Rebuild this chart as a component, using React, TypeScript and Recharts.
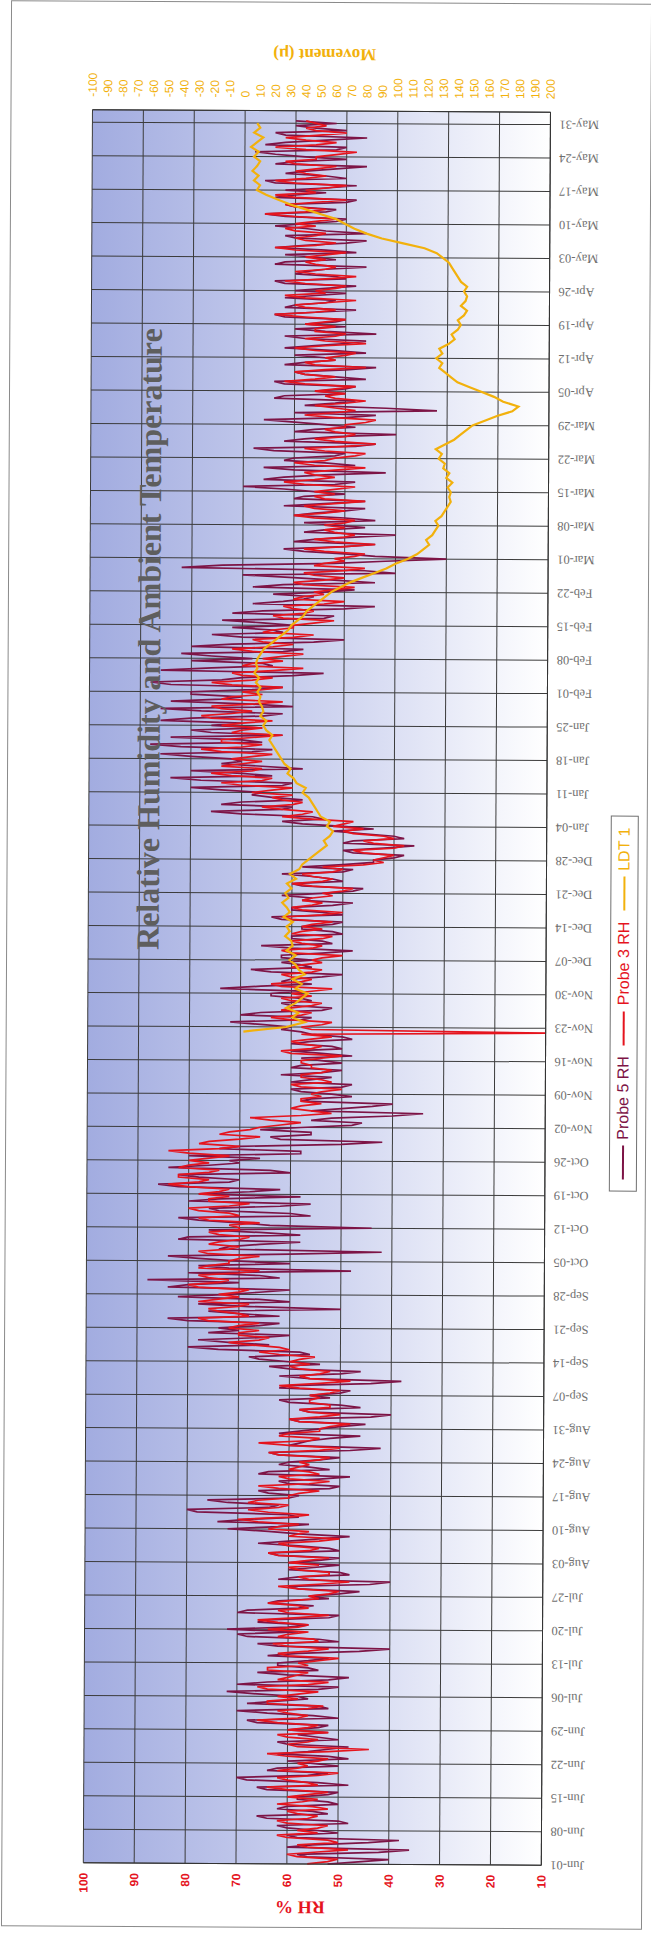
import { LineChart, Line, XAxis, YAxis, CartesianGrid } from 'recharts';

// week labels on the date axis, one every 7 days from Jun-01
const TICK_LABELS = [
  'Jun-01', 'Jun-08', 'Jun-15', 'Jun-22', 'Jun-29', 'Jul-06', 'Jul-13', 'Jul-20', 'Jul-27',
  'Aug-03', 'Aug-10', 'Aug-17', 'Aug-24', 'Aug-31', 'Sep-07', 'Sep-14', 'Sep-21', 'Sep-28',
  'Oct-05', 'Oct-12', 'Oct-19', 'Oct-26', 'Nov-02', 'Nov-09', 'Nov-16', 'Nov-23', 'Nov-30',
  'Dec-07', 'Dec-14', 'Dec-21', 'Dec-28', 'Jan-04', 'Jan-11', 'Jan-18', 'Jan-25', 'Feb-01',
  'Feb-08', 'Feb-15', 'Feb-22', 'Mar-01', 'Mar-08', 'Mar-15', 'Mar-22', 'Mar-29', 'Apr-05',
  'Apr-12', 'Apr-19', 'Apr-26', 'May-03', 'May-10', 'May-17', 'May-24', 'May-31',
];
const TICK_DAYS = TICK_LABELS.map((_, i) => i * 7);

const RH_TICKS = [10, 20, 30, 40, 50, 60, 70, 80, 90, 100];
const MOV_TICKS = [
  -100, -90, -80, -70, -60, -50, -40, -30, -20, -10, 0, 10, 20, 30, 40, 50, 60, 70, 80, 90,
  100, 110, 120, 130, 140, 150, 160, 170, 180, 190, 200,
];

// Probe 5 RH, morning reading, Jun-01 .. May-31 (one row per week)
const PROBE5_AM = [
  52, 40, 58, 36, 55, 38, 60,
  54, 62, 50, 66, 55, 60, 52,
  58, 50, 66, 54, 70, 52, 62,
  55, 48, 62, 52, 60, 50, 58,
  60, 52, 68, 55, 70, 54, 62,
  58, 72, 50, 64, 48, 66, 56,
  62, 52, 58, 40, 66, 54, 70,
  72, 56, 64, 50, 68, 55, 62,
  56, 46, 60, 40, 58, 50, 55,
  60, 50, 64, 52, 66, 54, 58,
  72, 56, 68, 60, 80, 62, 76,
  58, 66, 50, 62, 48, 64, 56,
  60, 50, 64, 42, 58, 52, 62,
  54, 45, 60, 40, 58, 50, 62,
  56, 48, 60, 38, 62, 46, 64,
  60, 68, 58, 80, 72, 66, 76,
  74, 62, 84, 70, 50, 78, 66,
  72, 60, 80, 88, 66, 48, 78,
  70, 84, 42, 72, 58, 80, 66,
  44, 70, 82, 60, 76, 56, 74,
  78, 62, 86, 70, 82, 64, 76,
  72, 80, 58, 70, 42, 64, 56,
  58, 46, 52, 34, 50, 40, 56,
  52, 60, 48, 56, 62, 50, 58,
  54, 48, 60, 52, 56, 50, 58,
  60, 72, 56, 66, 52, 62, 58,
  64, 74, 56, 60, 50, 68, 58,
  56, 62, 48, 66, 54, 60, 52,
  58, 50, 64, 54, 60, 48, 56,
  54, 46, 60, 52, 62, 48, 50,
  44, 38, 50, 36, 48, 40, 52,
  50, 62, 56, 76, 60, 70, 64,
  66, 80, 60, 84, 70, 58, 74,
  72, 86, 64, 88, 70, 62, 80,
  76, 86, 66, 78, 60, 84, 70,
  80, 62, 88, 70, 54, 76, 66,
  68, 82, 58, 72, 50, 76, 64,
  60, 74, 52, 66, 44, 62, 56,
  54, 68, 44, 60, 40, 82, 52,
  30, 50, 62, 44, 56, 40, 54,
  52, 44, 60, 50, 62, 46, 58,
  56, 70, 48, 62, 42, 66, 54,
  60, 50, 68, 44, 58, 40, 56,
  54, 66, 44, 32, 58, 48, 62,
  56, 48, 64, 52, 60, 44, 58,
  54, 46, 62, 50, 58, 44, 60,
  58, 50, 64, 48, 60, 52, 56,
  60, 48, 64, 52, 58, 46, 62,
  56, 48, 64, 50, 60, 46, 58,
  58, 50, 66, 52, 62, 48, 60,
  62, 48, 66, 54, 58, 46, 60,
  58, 68, 50, 62, 46, 64, 56,
  52,
];

// Probe 5 RH, evening reading
const PROBE5_PM = [
  46, 56, 42, 60, 44, 58, 50,
  60, 48, 64, 52, 62, 50, 58,
  52, 64, 48, 68, 56, 64, 50,
  60, 52, 56, 48, 62, 54, 52,
  54, 66, 50, 64, 52, 68, 56,
  66, 54, 70, 52, 60, 54, 62,
  56, 64, 46, 62, 50, 68, 58,
  60, 66, 52, 70, 58, 64, 52,
  50, 58, 44, 62, 48, 60, 50,
  54, 62, 50, 58, 60, 48, 64,
  62, 74, 58, 78, 64, 72, 60,
  64, 52, 60, 54, 66, 52, 62,
  54, 62, 48, 60, 56, 46, 58,
  50, 58, 44, 56, 46, 60, 52,
  50, 62, 44, 56, 50, 60, 54,
  66, 56, 74, 64, 78, 60, 70,
  66, 80, 62, 76, 68, 60, 82,
  66, 84, 70, 62, 80, 72, 60,
  78, 60, 74, 66, 82, 58, 76,
  64, 78, 56, 74, 62, 80, 58,
  68, 82, 72, 78, 60, 84, 70,
  66, 58, 74, 50, 62, 56, 66,
  48, 56, 40, 56, 44, 58, 48,
  58, 50, 60, 52, 54, 60, 50,
  58, 54, 50, 60, 48, 56, 62,
  66, 58, 70, 54, 60, 56, 64,
  58, 66, 62, 54, 64, 56, 62,
  62, 54, 60, 52, 60, 50, 58,
  52, 62, 50, 60, 52, 58, 62,
  48, 58, 50, 56, 50, 58, 44,
  40, 48, 42, 50, 38, 46, 44,
  58, 54, 70, 62, 74, 58, 68,
  74, 62, 78, 64, 80, 66, 70,
  80, 68, 82, 66, 84, 76, 66,
  70, 80, 62, 86, 68, 74, 80,
  68, 84, 74, 60, 86, 64, 80,
  76, 62, 80, 56, 70, 62, 72,
  66, 54, 72, 50, 68, 58, 64,
  48, 62, 52, 70, 46, 74, 42,
  44, 58, 50, 60, 48, 58, 46,
  58, 50, 56, 46, 54, 60, 50,
  62, 52, 66, 54, 60, 48, 62,
  52, 64, 48, 62, 52, 60, 48,
  60, 50, 60, 42, 52, 64, 50,
  50, 62, 46, 58, 50, 62, 52,
  60, 52, 56, 46, 62, 54, 50,
  52, 62, 56, 62, 54, 62, 50,
  54, 62, 50, 60, 54, 64, 52,
  62, 54, 58, 46, 62, 54, 64,
  52, 62, 54, 60, 50, 64, 54,
  54, 64, 50, 62, 52, 64, 50,
  64, 52, 66, 54, 62, 50, 60,
  60,
];

// Probe 3 RH, morning reading
const PROBE3_AM = [
  56, 50, 60, 48, 58, 52, 62,
  58, 52, 62, 54, 60, 55, 57,
  60, 52, 64, 56, 62, 50, 58,
  58, 52, 64, 44, 60, 54, 62,
  60, 54, 66, 56, 62, 53, 64,
  62, 54, 66, 52, 60, 56, 64,
  58, 50, 62, 52, 63, 55, 60,
  64, 56, 66, 52, 62, 58, 60,
  56, 50, 62, 48, 58, 52, 60,
  60, 52, 64, 54, 62, 50, 58,
  64, 58, 70, 56, 68, 60, 66,
  60, 54, 66, 52, 62, 56, 58,
  58, 52, 64, 50, 66, 54, 60,
  54, 48, 60, 50, 58, 52, 56,
  56, 50, 62, 48, 58, 52, 60,
  60, 55, 66, 62, 72, 64, 70,
  72, 66, 78, 70, 76, 68, 74,
  74, 68, 80, 72, 78, 66, 76,
  72, 66, 78, 70, 74, 68, 76,
  70, 66, 78, 72, 80, 68, 76,
  78, 72, 84, 76, 82, 74, 80,
  80, 72, 84, 70, 76, 66, 72,
  66, 58, 68, 52, 60, 54, 58,
  56, 50, 60, 54, 58, 52, 56,
  58, 50, 62, 54, 60, 52, 10,
  58, 52, 64, 56, 60, 54, 62,
  60, 52, 64, 56, 62, 54, 58,
  56, 50, 62, 54, 60, 52, 58,
  58, 52, 62, 50, 60, 54, 56,
  54, 48, 60, 52, 58, 50, 46,
  44, 40, 48, 38, 46, 42, 50,
  52, 48, 62, 56, 66, 58, 64,
  68, 60, 74, 64, 76, 66, 70,
  72, 64, 78, 66, 74, 62, 70,
  74, 64, 78, 68, 76, 62, 72,
  70, 62, 76, 64, 72, 58, 68,
  66, 58, 72, 60, 68, 56, 64,
  60, 52, 64, 56, 62, 50, 58,
  56, 48, 60, 50, 58, 46, 54,
  52, 46, 58, 44, 56, 48, 54,
  54, 48, 60, 50, 58, 46, 56,
  56, 48, 62, 52, 58, 46, 60,
  52, 46, 58, 44, 56, 48, 54,
  50, 44, 58, 48, 56, 46, 54,
  56, 48, 62, 52, 60, 46, 58,
  54, 48, 60, 46, 58, 50, 56,
  58, 50, 64, 52, 60, 48, 62,
  56, 50, 62, 48, 60, 52, 58,
  58, 50, 64, 52, 60, 54, 62,
  60, 52, 66, 54, 62, 50, 64,
  58, 50, 64, 54, 60, 52, 62,
  56, 48, 64, 52, 62, 50, 58,
  56,
];

// Probe 3 RH, evening reading
const PROBE3_PM = [
  52, 58, 54, 56, 50, 60, 54,
  54, 60, 56, 58, 52, 62, 54,
  56, 60, 54, 60, 54, 62, 56,
  54, 60, 52, 58, 56, 60, 52,
  56, 62, 58, 60, 56, 64, 58,
  58, 64, 56, 62, 58, 64, 56,
  54, 60, 56, 60, 54, 62, 56,
  58, 62, 58, 60, 56, 64, 54,
  52, 58, 54, 56, 52, 58, 54,
  56, 62, 56, 60, 54, 60, 56,
  62, 66, 60, 64, 62, 68, 60,
  58, 62, 56, 60, 54, 60, 56,
  54, 62, 54, 60, 56, 62, 54,
  52, 58, 54, 56, 52, 56, 54,
  52, 58, 54, 56, 54, 58, 56,
  58, 62, 60, 68, 66, 70, 66,
  70, 76, 68, 74, 70, 78, 70,
  70, 78, 74, 76, 70, 78, 72,
  70, 76, 72, 76, 70, 74, 70,
  72, 76, 70, 78, 72, 76, 72,
  74, 80, 78, 82, 76, 82, 76,
  76, 80, 74, 78, 70, 74, 68,
  62, 64, 58, 56, 58, 58, 54,
  54, 58, 52, 58, 54, 56, 58,
  54, 60, 56, 58, 56, 58, 56,
  54, 60, 58, 62, 56, 60, 56,
  56, 62, 58, 60, 56, 60, 54,
  54, 60, 56, 58, 54, 60, 54,
  56, 60, 54, 58, 56, 58, 52,
  50, 56, 54, 56, 52, 54, 42,
  42, 46, 40, 44, 40, 48, 46,
  50, 56, 58, 62, 60, 62, 60,
  64, 70, 66, 72, 68, 74, 66,
  68, 74, 70, 74, 68, 72, 66,
  70, 76, 72, 74, 68, 74, 66,
  66, 72, 68, 70, 64, 70, 62,
  62, 68, 64, 66, 60, 66, 60,
  56, 62, 58, 60, 54, 60, 54,
  52, 58, 54, 56, 50, 56, 50,
  48, 54, 50, 52, 50, 52, 50,
  50, 56, 54, 56, 52, 54, 52,
  52, 58, 56, 56, 52, 56, 54,
  48, 54, 50, 52, 50, 52, 50,
  46, 52, 52, 52, 50, 52, 50,
  52, 58, 56, 58, 54, 56, 52,
  50, 56, 54, 54, 52, 56, 52,
  54, 58, 56, 58, 54, 58, 54,
  52, 58, 54, 56, 54, 56, 54,
  54, 60, 56, 58, 56, 60, 56,
  56, 60, 58, 60, 56, 60, 56,
  54, 60, 58, 58, 56, 60, 56,
  52, 58, 56, 58, 56, 56, 54,
  58,
];

// LDT 1 movement (µ), daily from Nov-22 .. May-31
const LDT_START = 174;
const LDT1 = [
  2,
  30, 42, 34, 38, 30, 36, 40,
  44, 36, 40, 34, 42, 38, 36,
  32, 36, 30, 34, 33, 29, 32,
  30, 34, 28, 32, 30, 27, 31,
  29, 33, 30, 36, 32, 38, 40,
  44, 48, 52, 56, 54, 58, 60,
  56, 58, 52, 50, 48, 46, 44,
  40, 42, 36, 34, 30, 32, 28,
  26, 24, 22, 20, 18, 20, 16,
  14, 16, 12, 14, 13, 11, 12,
  10, 12, 9, 11, 8, 10, 9,
  10, 12, 14, 18, 22, 26, 30,
  32, 36, 40, 42, 46, 50, 54,
  58, 64, 70, 78, 86, 94, 100,
  108, 114, 118, 122, 120, 124, 126,
  128, 126, 130, 132, 134, 136, 135,
  136, 134, 137, 133, 135, 131, 132,
  128, 130, 126, 132, 138, 142, 146,
  150, 158, 166, 176, 180, 170, 164,
  156, 148, 140, 136, 132, 128, 130,
  126, 130, 128, 134, 138, 136, 140,
  142, 140, 144, 146, 142, 145, 146,
  144, 146, 142, 140, 138, 136, 134,
  130, 126, 118, 104, 90, 80, 72,
  66, 60, 50, 40, 30, 22, 14,
  8, 10, 6, 9, 5, 8, 10,
  6, 9, 4, 8, 12, 6, 10,
  8,
];

const data = PROBE5_AM.flatMap((p5, i) => [
  {
    day: i,
    p5,
    p3: PROBE3_AM[i] ?? null,
    ldt: i >= LDT_START ? LDT1[i - LDT_START] ?? null : null,
  },
  {
    day: i + 0.5,
    p5: PROBE5_PM[i] ?? null,
    p3: PROBE3_PM[i] ?? null,
    ldt: null,
  },
]);

const MAROON = '#7d1446';
const RED = '#e5141e';
const GOLD = '#f2b10c';

function DateTick({ x, y, payload }: any) {
  const idx = TICK_DAYS.indexOf(payload.value);
  return (
    <text
      x={x}
      y={y}
      transform={`rotate(-90, ${x}, ${y})`}
      textAnchor="end"
      dominantBaseline="central"
      fontFamily="'Liberation Serif', serif"
      fontSize={12.5}
      fill="#6e6e6e"
    >
      {TICK_LABELS[idx]}
    </text>
  );
}

function LegendBox() {
  const item = (color: string, label: string) => (
    <div style={{ display: 'flex', alignItems: 'center', gap: 6 }}>
      <div style={{ width: 34, height: 2, background: color }} />
      <span style={{ color, fontFamily: "'Liberation Sans', sans-serif", fontSize: 16 }}>{label}</span>
    </div>
  );
  return (
    <div
      style={{
        position: 'absolute', left: 745, top: 610, width: 376, height: 28, boxSizing: 'border-box',
        border: '1px solid #707070', background: '#fff', display: 'flex', alignItems: 'center',
        justifyContent: 'space-evenly',
      }}
    >
      {item(MAROON, 'Probe 5 RH')}
      {item(RED, 'Probe 3 RH')}
      {item(GOLD, 'LDT 1')}
    </div>
  );
}

export default function App() {
  return (
    <div style={{ position: 'absolute', left: 0, top: 0, width: 651, height: 1935, background: '#fff', transform: 'rotate(0.3deg)' }}>
      <div
        style={{
          position: 'absolute', left: 0, top: 0, width: 1935, height: 651,
          transformOrigin: '0 0', transform: 'translateY(1935px) rotate(-90deg)',
        }}
      >
        <div style={{ position: 'absolute', left: 7, top: 6, width: 1924, height: 639, border: '1px solid #8a8a8a' }} />
        <LineChart width={1935} height={651} data={data} margin={{ top: 88, right: 51, bottom: 45, left: 21 }}>
          <defs>
            <linearGradient id="plotBg" x1="0" y1="0" x2="0" y2="1">
              <stop offset="0%" stopColor="#a2ace0" />
              <stop offset="55%" stopColor="#d0d5f0" />
              <stop offset="100%" stopColor="#ffffff" />
            </linearGradient>
          </defs>
          <CartesianGrid
            xAxisId="d"
            yAxisId="rh"
            fill="url(#plotBg)"
            fillOpacity={1}
            stroke="#3c3c3c"
            strokeWidth={1}
          />
          <XAxis
            xAxisId="d"
            dataKey="day"
            type="number"
            domain={[0, 366.6]}
            ticks={TICK_DAYS}
            interval={0}
            tick={<DateTick />}
            tickLine={false}
            tickSize={7}
            height={60}
            axisLine={{ stroke: '#333' }}
          />
          <YAxis
            yAxisId="rh"
            domain={[10, 100]}
            ticks={RH_TICKS}
            interval={0}
            width={50}
            tickLine={false}
            tickSize={8}
            axisLine={{ stroke: '#333' }}
            tick={{ fill: RED, fontSize: 12, fontWeight: 700, fontFamily: "'Liberation Sans', sans-serif" }}
          />
          <YAxis
            yAxisId="mov"
            orientation="right"
            domain={[-100, 200]}
            reversed
            ticks={MOV_TICKS}
            interval={0}
            width={60}
            tickLine={false}
            tickSize={11}
            axisLine={{ stroke: '#333' }}
            tick={{ fill: GOLD, fontSize: 12, fontFamily: "'Liberation Sans', sans-serif" }}
          />
          <Line xAxisId="d" yAxisId="rh" dataKey="p5" stroke={MAROON} strokeWidth={1.7} dot={false} isAnimationActive={false} />
          <Line xAxisId="d" yAxisId="rh" dataKey="p3" stroke={RED} strokeWidth={1.7} dot={false} isAnimationActive={false} />
          <Line xAxisId="d" yAxisId="mov" dataKey="ldt" stroke={GOLD} strokeWidth={2.2} dot={false} connectNulls isAnimationActive={false} />
        </LineChart>
        <div
          style={{
            position: 'absolute', left: 1295, top: 148, transform: 'translate(-50%, -50%)', whiteSpace: 'nowrap',
            fontFamily: "'Liberation Serif', serif", fontWeight: 700, fontSize: 32, color: '#5e5e5e',
          }}
        >
          Relative Humidity and Ambient Temperature
        </div>
        <div
          style={{
            position: 'absolute', left: 28, top: 305, transform: 'translate(-50%, -50%) rotate(-90deg)', whiteSpace: 'nowrap',
            fontFamily: "'Liberation Serif', serif", fontWeight: 700, fontSize: 18, color: RED,
          }}
        >
          RH %
        </div>
        <div
          style={{
            position: 'absolute', left: 1881, top: 320, transform: 'translate(-50%, -50%) rotate(-90deg)', whiteSpace: 'nowrap',
            fontFamily: "'Liberation Serif', serif", fontWeight: 700, fontSize: 17, color: GOLD,
          }}
        >
          Movement (µ)
        </div>
        <LegendBox />
      </div>
    </div>
  );
}
